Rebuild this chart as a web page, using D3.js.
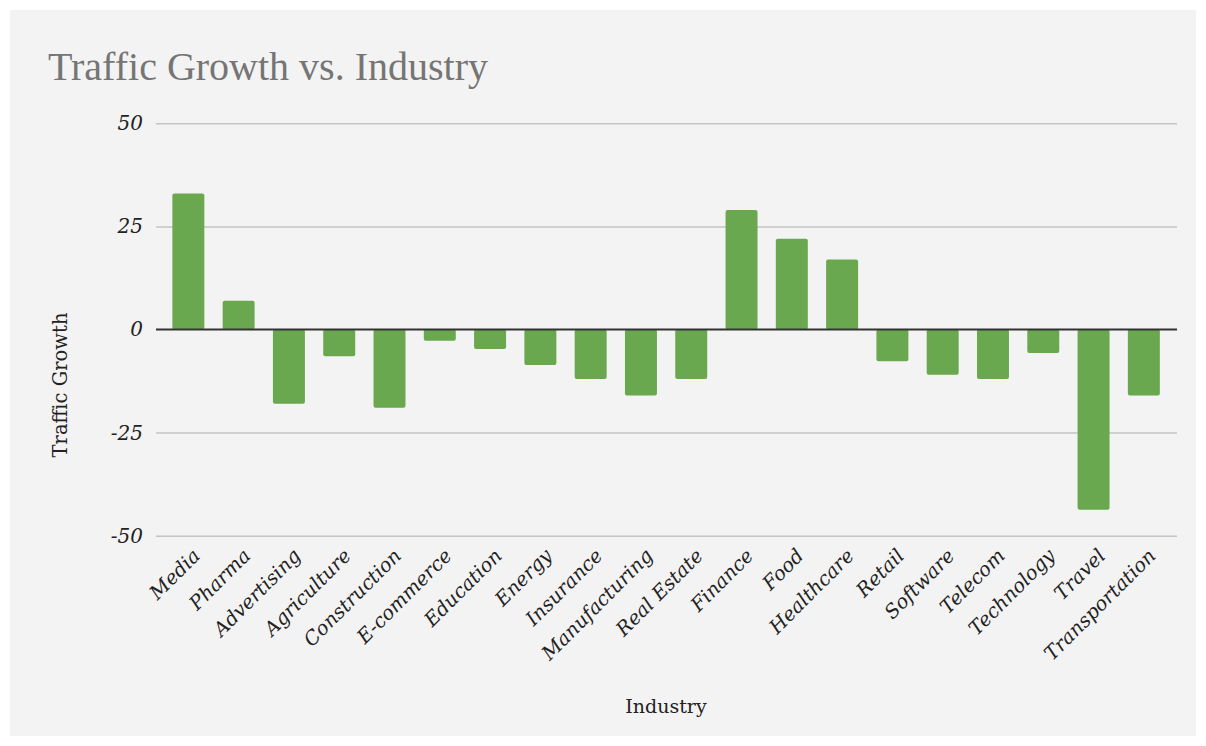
<!DOCTYPE html>
<html>
<head>
<meta charset="utf-8">
<script src="https://cdn.jsdelivr.net/npm/d3@7"></script>
<style>
  body { margin: 0; background: #ffffff; }
</style>
</head>
<body>
<div id="chart"></div>
<script>
var industries = ['Media', 'Pharma', 'Advertising', 'Agriculture', 'Construction', 'E-commerce', 'Education',
    'Energy', 'Insurance', 'Manufacturing', 'Real Estate', 'Finance', 'Food', 'Healthcare', 'Retail',
    'Software', 'Telecom', 'Technology', 'Travel', 'Transportation'];
var growth = [33, 7, -18, -6.5, -19, -2.7, -4.7, -8.6, -12, -16, -12, 29, 22, 17, -7.7, -11, -12, -5.7, -43.7, -16];
var yTicks = [-50, -25, 0, 25, 50];

var totalWidth = 1206;
var totalHeight = 746;

var data = industries.map(function(d, i) {
    return { name: d, value: growth[i] };
});

var svg = d3.select('#chart').append('svg')
    .attr('width', totalWidth)
    .attr('height', totalHeight);

// grey panel
svg.append('rect')
    .attr('x', 10).attr('y', 10)
    .attr('width', 1186).attr('height', 726)
    .attr('fill', '#f3f3f3');

svg.append('text')
    .attr('x', 48).attr('y', 80)
    .attr('font-family', '"Liberation Serif", serif')
    .attr('font-size', 40)
    .attr('fill', '#757575')
    .text('Traffic Growth vs. Industry');

var yScale = d3.scaleLinear()
    .domain([-50, 50])
    .range([535.7, 123.3]);

var xScale = d3.scaleBand()
    .domain(industries)
    .range([163.2, 1169])
    .paddingInner(0.364)
    .paddingOuter(0.182);

// gridlines + tick labels
var yAxis = d3.axisLeft(yScale)
    .tickValues(yTicks)
    .tickSize(-(1177 - 156))
    .tickPadding(13)
    .tickFormat(d => String(d));

var yAxisGroup = svg.append('g')
    .attr('transform', 'translate(156,0)')
    .call(yAxis);
yAxisGroup.select('.domain').remove();
yAxisGroup.selectAll('line')
    .attr('stroke', d => d === 0 ? 'none' : '#c4c4c4')
    .attr('stroke-width', 1.5);
yAxisGroup.selectAll('text')
    .attr('font-family', '"DejaVu Serif", serif')
    .attr('font-style', 'italic')
    .attr('font-size', 20)
    .attr('fill', '#222');

svg.append('g').selectAll('rect')
    .data(data)
    .enter()
    .append('rect')
    .attr('x', d => xScale(d.name))
    .attr('y', d => yScale(Math.max(0, d.value)))
    .attr('width', xScale.bandwidth())
    .attr('height', d => Math.abs(yScale(d.value) - yScale(0)))
    .attr('rx', 2)
    .attr('fill', '#6aa84f');

// zero baseline on top of bars
svg.append('line')
    .attr('x1', 156).attr('x2', 1177)
    .attr('y1', yScale(0)).attr('y2', yScale(0))
    .attr('stroke', '#333')
    .attr('stroke-width', 1.8);

// rotated category labels
svg.append('g').selectAll('text')
    .data(industries)
    .enter()
    .append('text')
    .attr('transform', d => 'translate(' + (xScale(d) + xScale.bandwidth() / 2 + 13) + ',557) rotate(-45)')
    .attr('text-anchor', 'end')
    .attr('font-family', '"DejaVu Serif", serif')
    .attr('font-style', 'italic')
    .attr('font-size', 19.5)
    .attr('fill', '#222')
    .text(d => d);

svg.append('text')
    .attr('x', 666).attr('y', 713)
    .attr('text-anchor', 'middle')
    .attr('font-family', '"DejaVu Serif", serif')
    .attr('font-size', 19)
    .attr('fill', '#222')
    .text('Industry');

svg.append('text')
    .attr('transform', 'translate(67,385) rotate(-90)')
    .attr('text-anchor', 'middle')
    .attr('font-family', '"DejaVu Serif", serif')
    .attr('font-size', 19.5)
    .attr('fill', '#222')
    .text('Traffic Growth');
</script>
</body>
</html>
